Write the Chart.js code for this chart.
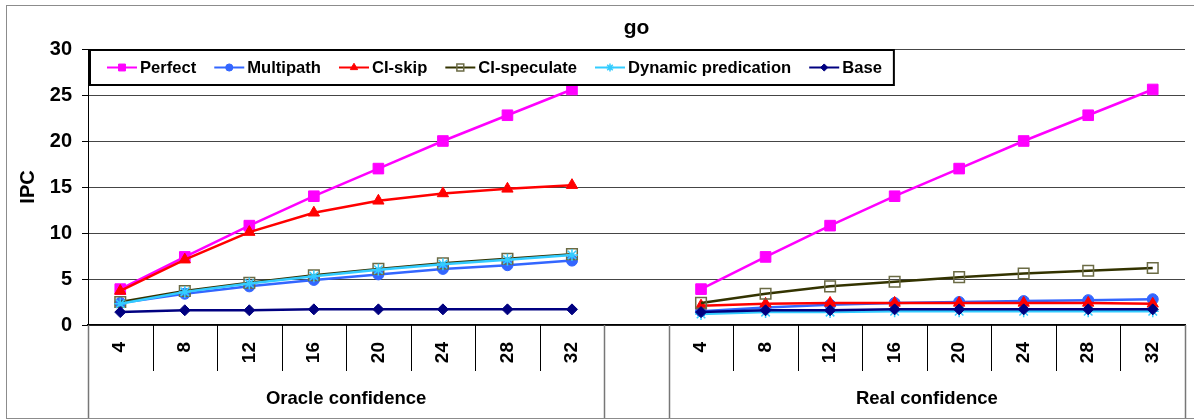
<!DOCTYPE html>
<html>
<head>
<meta charset="utf-8">
<script src="https://cdn.jsdelivr.net/npm/chart.js@4/dist/chart.umd.min.js"></script>
<style>
  html, body { margin: 0; padding: 0; background: #fff; }
  #wrap { width: 1194px; height: 420px; position: relative; }
</style>
</head>
<body>
<div id="wrap"><canvas id="c" width="1194" height="420"></canvas></div>
<script>
const FONT = '"Liberation Sans", Arial, Helvetica, sans-serif';

// Chart text
const chartTitle = 'go';
const yTitle = 'IPC';
const groupNames = ['Oracle confidence', 'Real confidence'];
const thresholds = ['4', '8', '12', '16', '20', '24', '28', '32'];

// IPC per confidence threshold, oracle group then real group
const perfectOracle     = [3.9, 7.4, 10.8, 14.0, 17.0, 20.0, 22.8, 25.6];
const perfectReal       = [3.9, 7.4, 10.8, 14.0, 17.0, 20.0, 22.8, 25.6];
const multipathOracle   = [2.4, 3.4, 4.2, 4.9, 5.5, 6.1, 6.5, 7.0];
const multipathReal     = [1.5, 1.9, 2.2, 2.4, 2.5, 2.6, 2.7, 2.8];
const ciSkipOracle      = [3.7, 7.1, 10.1, 12.2, 13.5, 14.3, 14.8, 15.2];
const ciSkipReal        = [2.1, 2.3, 2.4, 2.4, 2.4, 2.4, 2.4, 2.3];
const ciSpecOracle      = [2.5, 3.7, 4.6, 5.4, 6.1, 6.7, 7.2, 7.7];
const ciSpecReal        = [2.4, 3.4, 4.2, 4.7, 5.2, 5.6, 5.9, 6.2];
const dynPredOracle     = [2.3, 3.6, 4.5, 5.3, 6.0, 6.6, 7.1, 7.6];
const dynPredReal       = [1.2, 1.4, 1.4, 1.5, 1.5, 1.5, 1.5, 1.5];
const baseOracle        = [1.4, 1.6, 1.6, 1.7, 1.7, 1.7, 1.7, 1.7];
const baseReal          = [1.4, 1.6, 1.6, 1.7, 1.7, 1.7, 1.7, 1.7];

// one empty category separates the two groups
const xLabels = [...thresholds, '', ...thresholds];
const gapIndex = thresholds.length;
const joinGroups = (a, b) => [...a, null, ...b];

function lineSet(label, data, color, style, radius, extra) {
  return Object.assign({
    label, data,
    borderColor: color,
    backgroundColor: color,
    borderWidth: 2.5,
    pointStyle: style,
    pointRadius: radius,
    pointHoverRadius: radius,
    pointBackgroundColor: color,
    pointBorderColor: color,
    pointBorderWidth: 1,
    tension: 0,
    spanGaps: false,
    fill: false
  }, extra || {});
}

const datasets = [
  lineSet('Perfect', joinGroups(perfectOracle, perfectReal), '#FF00FF', 'rect', 7.5, { order: 5 }),
  lineSet('Multipath', joinGroups(multipathOracle, multipathReal), '#3366FF', 'circle', 5.5, { order: 4 }),
  lineSet('CI-skip', joinGroups(ciSkipOracle, ciSkipReal), '#FF0000', 'triangle', 6.5, { order: 3 }),
  lineSet('CI-speculate', joinGroups(ciSpecOracle, ciSpecReal), '#333300', 'rect', 7.5, {
    order: 2, pointBackgroundColor: 'rgba(0,0,0,0)', pointBorderColor: '#6b6b45', pointBorderWidth: 1.5
  }),
  lineSet('Dynamic predication', joinGroups(dynPredOracle, dynPredReal), '#33CCFF', 'star', 6, {
    order: 1, pointBorderWidth: 1.5
  }),
  lineSet('Base', joinGroups(baseOracle, baseReal), '#000080', 'rectRot', 5.5, { order: 0 })
];

function drawMarker(ctx, ds, x, y, r) {
  ctx.save();
  ctx.fillStyle = ds.pointBackgroundColor;
  ctx.strokeStyle = ds.pointBorderColor;
  ctx.lineWidth = ds.pointBorderWidth;
  if (Chart.helpers && Chart.helpers.drawPoint) {
    Chart.helpers.drawPoint(ctx, { pointStyle: ds.pointStyle, radius: r, rotation: 0, borderWidth: ds.pointBorderWidth }, x, y);
  } else {
    ctx.beginPath(); ctx.arc(x, y, r, 0, Math.PI * 2); ctx.fill(); ctx.stroke();
  }
  ctx.restore();
}

const decorations = {
  id: 'decorations',
  beforeDraw(chart) {
    const ctx = chart.ctx;
    ctx.save();
    ctx.fillStyle = '#fff';
    ctx.fillRect(0, 0, chart.width, chart.height);
    ctx.strokeStyle = '#8c8c8c';
    ctx.lineWidth = 1;
    ctx.strokeRect(6.5, 5.5, 1200, 413);
    ctx.restore();
  },
  afterDraw(chart) {
    const ctx = chart.ctx;
    const area = chart.chartArea;
    const xs = chart.scales.x;
    const n = xLabels.length;
    const bottom = 418;

    // category dividers below the axis
    const bounds = [area.left];
    for (let i = 0; i < n - 1; i++) {
      bounds.push((xs.getPixelForValue(i) + xs.getPixelForValue(i + 1)) / 2);
    }
    bounds.push(area.right);
    ctx.save();
    bounds.forEach((bx, k) => {
      const isGroupEdge = (k === 0 || k === n || k === gapIndex || k === gapIndex + 1);
      const px = Math.round(bx) + 0.5;
      ctx.beginPath();
      ctx.moveTo(px, area.bottom);
      ctx.lineTo(px, isGroupEdge ? bottom : area.bottom + 46);
      ctx.strokeStyle = isGroupEdge ? '#777' : '#000';
      ctx.lineWidth = isGroupEdge ? 1.5 : 1;
      ctx.stroke();
    });

    // group names
    ctx.fillStyle = '#000';
    ctx.font = 'bold 18.5px ' + FONT;
    ctx.textAlign = 'center';
    ctx.textBaseline = 'middle';
    ctx.fillText(groupNames[0], (bounds[0] + bounds[gapIndex]) / 2, 399);
    ctx.fillText(groupNames[1], (bounds[gapIndex + 1] + bounds[n]) / 2, 399);

    // title
    ctx.font = 'bold 21px ' + FONT;
    ctx.fillText(chartTitle, (area.left + area.right) / 2, 28);

    // y axis title
    ctx.save();
    ctx.font = 'bold 20px ' + FONT;
    ctx.translate(28, (area.top + area.bottom) / 2);
    ctx.rotate(-Math.PI / 2);
    ctx.fillText(yTitle, 0, 0);
    ctx.restore();

    // legend box
    ctx.font = 'bold 16.6px ' + FONT;
    const boxLeft = 90, boxTop = 50, boxH = 35, itemGap = 18;
    const midY = boxTop + boxH / 2;
    let x = boxLeft + 17;
    const items = datasets.map(ds => {
      const w = ctx.measureText(ds.label).width;
      const it = { ds, x, w };
      x += 33 + w + itemGap;
      return it;
    });
    const boxRight = x - itemGap + 12;
    ctx.fillStyle = '#fff';
    ctx.fillRect(boxLeft, boxTop, boxRight - boxLeft, boxH);
    ctx.strokeStyle = '#000';
    ctx.lineWidth = 2;
    ctx.strokeRect(boxLeft, boxTop, boxRight - boxLeft, boxH);
    items.forEach(it => {
      ctx.beginPath();
      ctx.moveTo(it.x, midY);
      ctx.lineTo(it.x + 30, midY);
      ctx.strokeStyle = it.ds.borderColor;
      ctx.lineWidth = 2;
      ctx.stroke();
      drawMarker(ctx, it.ds, it.x + 15, midY, Math.max(3.5, it.ds.pointRadius * 0.65));
      ctx.fillStyle = '#000';
      ctx.textAlign = 'left';
      ctx.textBaseline = 'middle';
      ctx.fillText(it.ds.label, it.x + 33, midY + 1);
    });
    ctx.restore();
  }
};

new Chart(document.getElementById('c'), {
  type: 'line',
  data: { labels: xLabels, datasets },
  plugins: [decorations],
  options: {
    responsive: false,
    animation: false,
    devicePixelRatio: 1,
    layout: { padding: { top: 49, right: 6, left: 0, bottom: 0 } },
    plugins: { legend: { display: false }, tooltip: { enabled: false }, title: { display: false } },
    scales: {
      x: {
        type: 'category',
        offset: true,
        grid: { display: false, drawTicks: false },
        border: { display: true, color: '#000', width: 1.5 },
        ticks: {
          autoSkip: false, minRotation: 90, maxRotation: 90, padding: 17,
          color: '#000', font: { family: FONT, size: 19, weight: 'bold' }
        },
        afterFit(s) { s.height = 95; }
      },
      y: {
        min: 0, max: 30,
        ticks: { stepSize: 5, padding: 10, color: '#000', font: { family: FONT, size: 20, weight: 'bold' } },
        grid: { color: '#454545', lineWidth: 1, tickLength: 6, tickColor: '#000', drawTicks: true },
        border: { display: true, color: '#000', width: 1 },
        afterFit(s) { s.width = 88; }
      }
    }
  }
});
</script>
</body>
</html>
